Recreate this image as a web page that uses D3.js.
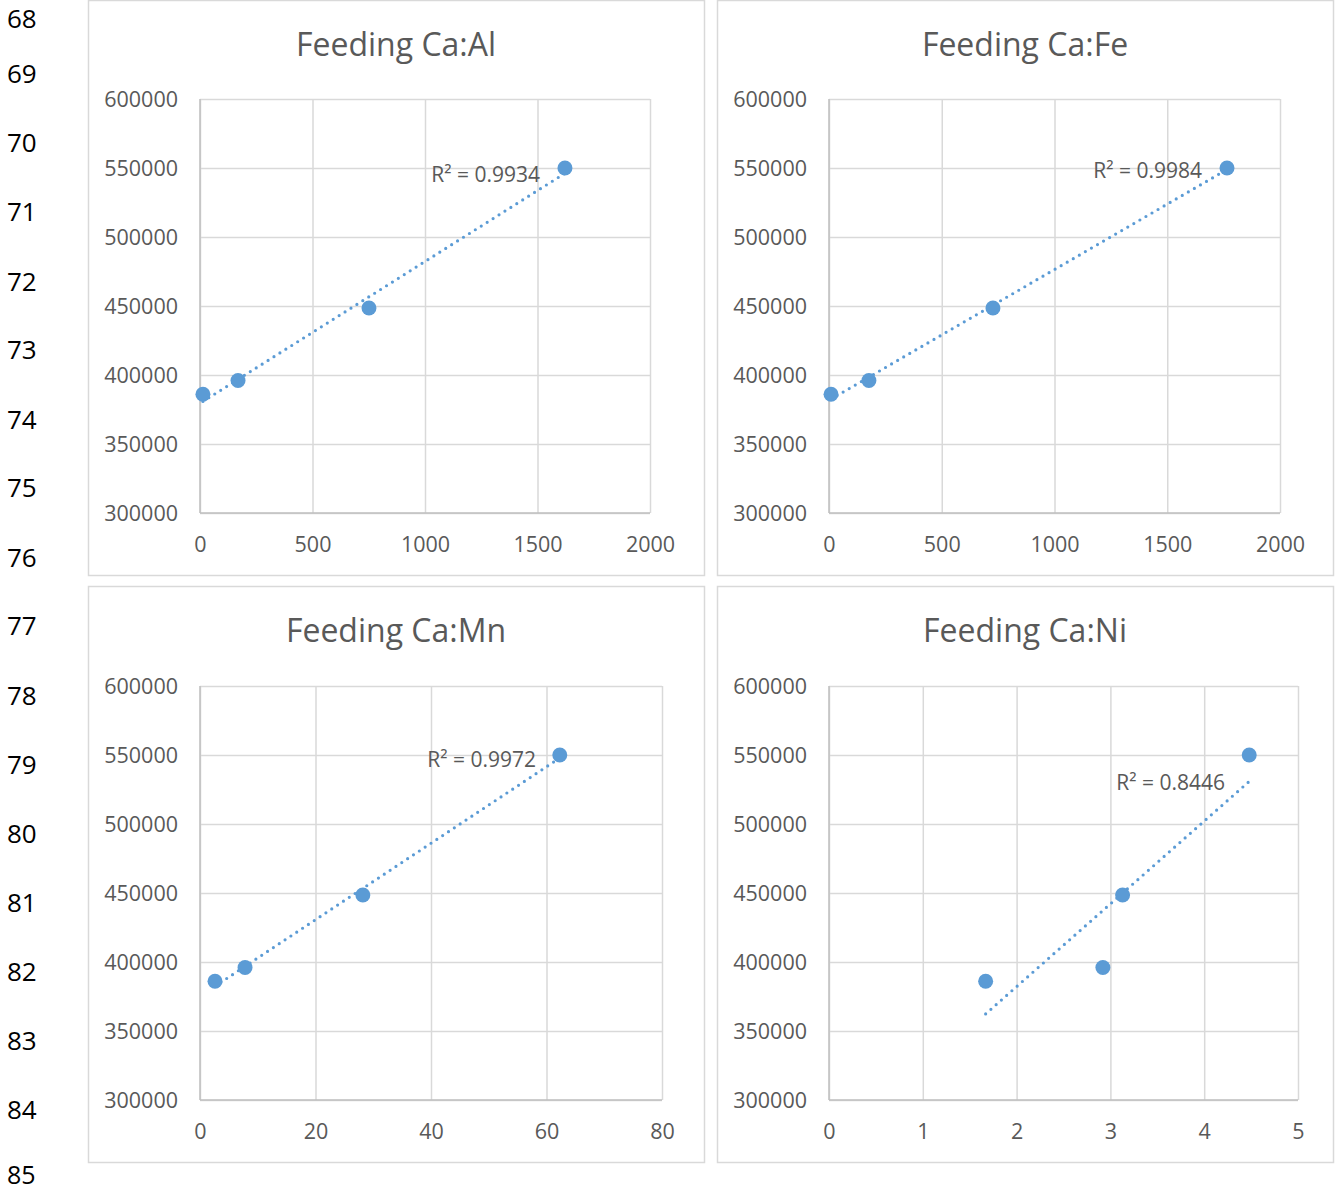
<!DOCTYPE html>
<html>
<head>
<meta charset="utf-8">
<script src="https://cdn.jsdelivr.net/npm/d3@7"></script>
<style>
  html, body { margin: 0; padding: 0; background: #fff; }
  svg { display: block; }
</style>
</head>
<body>
<svg id="chart" width="1335" height="1191"></svg>
<script>
// ---------------- DATA ----------------
const lineNumbers = [68, 69, 70, 71, 72, 73, 74, 75, 76, 77, 78, 79, 80, 81, 82, 83, 84, 85];
const titles = ["Feeding Ca:Al", "Feeding Ca:Fe", "Feeding Ca:Mn", "Feeding Ca:Ni"];
const yValues = [386000, 396000, 448500, 550000];
const xAl = [13, 169, 751, 1622];
const xFe = [9, 177, 727, 1765];
const xMn = [2.6, 7.8, 28.2, 62.3];
const xNi = [1.67, 2.92, 3.13, 4.48];
const xTicksAl = [0, 500, 1000, 1500, 2000];
const xTicksFe = [0, 500, 1000, 1500, 2000];
const xTicksMn = [0, 20, 40, 60, 80];
const xTicksNi = [0, 1, 2, 3, 4, 5];
const yTicks = [300000, 350000, 400000, 450000, 500000, 550000, 600000];
const r2Labels = ["R² = 0.9934", "R² = 0.9984", "R² = 0.9972", "R² = 0.8446"];

// ---------------- LAYOUT ----------------
const lineNumberY = [18, 73, 142, 211, 281, 349, 419, 487, 557, 625, 695, 764, 833, 902, 971, 1040, 1109, 1174];
const panels = [
  { box: [88, 1, 704, 576], plot: [200, 99, 650, 513], xs: xAl, ticks: xTicksAl, label: [540, 174] },
  { box: [717, 1, 1333, 576], plot: [829, 99, 1280, 513], xs: xFe, ticks: xTicksFe, label: [1202, 170] },
  { box: [88, 587, 704, 1163], plot: [200, 686, 662, 1100], xs: xMn, ticks: xTicksMn, label: [536, 759] },
  { box: [717, 587, 1333, 1163], plot: [829, 686, 1298, 1100], xs: xNi, ticks: xTicksNi, label: [1225, 782] }
];
const FONT = "'Open Sans', 'Noto Sans', sans-serif";
const textGray = "#595959";
const gridColor = "#D9D9D9";
const axisColor = "#BFBFBF";
const markColor = "#5B9BD5";

const svg = d3.select("#chart");

// line numbers
svg.append("g").selectAll("text").data(lineNumbers).join("text")
  .attr("x", 7).attr("y", (d, i) => lineNumberY[i])
  .attr("dominant-baseline", "central")
  .attr("font-family", FONT).attr("font-size", (d, i) => i === lineNumbers.length - 1 ? 25 : 26).attr("fill", "#000")
  .text(d => d);

panels.forEach((p, i) => {
  const g = svg.append("g");
  const [bx0, by0, bx1, by1] = p.box;
  g.append("rect").attr("x", bx0 + 0.5).attr("y", by0 - 0.5)
    .attr("width", bx1 - bx0).attr("height", by1 - by0)
    .attr("fill", "#fff").attr("stroke", gridColor).attr("stroke-width", 1.5);

  const [px0, py0, px1, py1] = p.plot;
  const x = d3.scaleLinear().domain([p.ticks[0], p.ticks[p.ticks.length - 1]]).range([px0, px1]);
  const y = d3.scaleLinear().domain([300000, 600000]).range([py1, py0]);

  // title
  g.append("text").attr("x", (bx0 + bx1) / 2).attr("y", by0 + 42)
    .attr("text-anchor", "middle").attr("dominant-baseline", "central")
    .attr("font-family", FONT).attr("font-size", 32).attr("fill", textGray)
    .text(titles[i]);

  // gridlines
  g.append("g").attr("transform", `translate(0,${py1})`)
    .call(d3.axisBottom(x).tickValues(p.ticks).tickSize(-(py1 - py0)).tickFormat(""))
    .call(s => s.select(".domain").remove())
    .call(s => s.selectAll("line").attr("stroke", gridColor).attr("stroke-width", 1.5));
  g.append("g").attr("transform", `translate(${px0},0)`)
    .call(d3.axisLeft(y).tickValues(yTicks).tickSize(-(px1 - px0)).tickFormat(""))
    .call(s => s.select(".domain").remove())
    .call(s => s.selectAll("line").attr("stroke", gridColor).attr("stroke-width", 1.5));

  // axis lines
  g.append("line").attr("x1", px0).attr("x2", px0).attr("y1", py0).attr("y2", py1)
    .attr("stroke", axisColor).attr("stroke-width", 1.5);
  g.append("line").attr("x1", px0).attr("x2", px1).attr("y1", py1).attr("y2", py1)
    .attr("stroke", axisColor).attr("stroke-width", 1.5);

  // tick labels
  g.append("g").attr("transform", `translate(${px0 - 22},1)`)
    .call(d3.axisLeft(y).tickValues(yTicks).tickSize(0).tickPadding(0).tickFormat(d3.format("d")))
    .call(s => s.select(".domain").remove())
    .call(s => s.selectAll("text").attr("font-family", FONT).attr("font-size", 21.5).attr("fill", textGray));
  g.append("g").attr("transform", `translate(0,${py1 + 31})`)
    .call(d3.axisBottom(x).tickValues(p.ticks).tickSize(0).tickPadding(0).tickFormat(d3.format("d")))
    .call(s => s.select(".domain").remove())
    .call(s => s.selectAll("text").attr("dy", "0.35em").attr("font-family", FONT).attr("font-size", 21.5).attr("fill", textGray));

  // linear regression trendline
  const pts = p.xs.map((xv, k) => [xv, yValues[k]]);
  const mx = d3.mean(pts, d => d[0]), my = d3.mean(pts, d => d[1]);
  const sxy = d3.sum(pts, d => (d[0] - mx) * (d[1] - my));
  const sxx = d3.sum(pts, d => (d[0] - mx) ** 2);
  const slope = sxy / sxx, icpt = my - slope * mx;
  const xmin = d3.min(p.xs), xmax = d3.max(p.xs);
  g.append("line")
    .attr("x1", x(xmin)).attr("y1", y(icpt + slope * xmin))
    .attr("x2", x(xmax)).attr("y2", y(icpt + slope * xmax))
    .attr("stroke", markColor).attr("stroke-width", 3.2)
    .attr("stroke-linecap", "round").attr("stroke-dasharray", "0,7");

  // points
  g.append("g").selectAll("circle").data(pts).join("circle")
    .attr("cx", d => x(d[0])).attr("cy", d => y(d[1])).attr("r", 7.5)
    .attr("fill", markColor);

  // R² label
  g.append("text").attr("x", p.label[0]).attr("y", p.label[1])
    .attr("text-anchor", "end").attr("dominant-baseline", "central")
    .attr("font-family", FONT).attr("font-size", 21).attr("fill", textGray)
    .text(r2Labels[i]);
});
</script>
</body>
</html>
